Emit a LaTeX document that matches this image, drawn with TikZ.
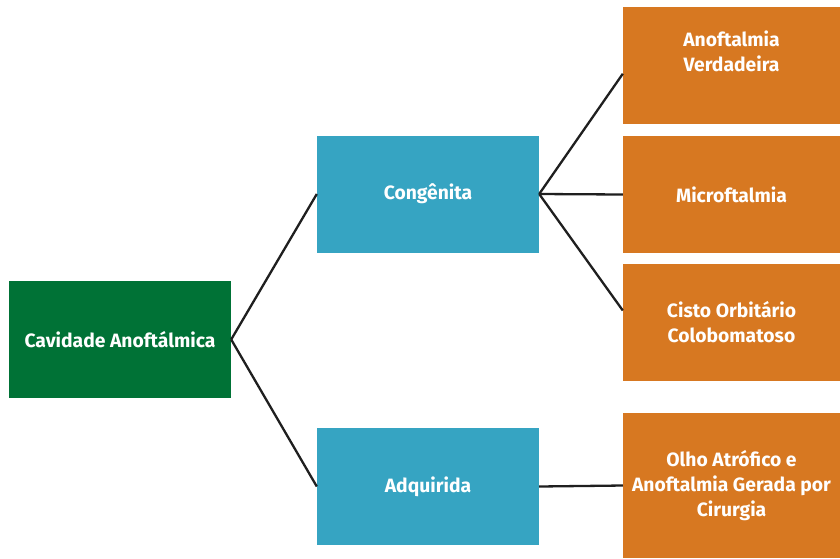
\documentclass[tikz,border=0pt]{standalone}
\usepackage{fontspec}
\setmainfont{Fira Sans}
\usepackage{tikz}

\definecolor{rootgreen}{RGB}{0,114,54}
\definecolor{midblue}{RGB}{54,164,194}
\definecolor{leaforange}{RGB}{215,120,33}

\begin{document}
\begin{tikzpicture}[x=1pt, y=1pt,
  box/.style = {minimum width=222pt, minimum height=117pt, inner sep=0pt,
    text=white, align=center, font=\fontsize{19.3}{25}\selectfont\bfseries},
  root/.style = {box, fill=rootgreen},
  mid/.style = {box, fill=midblue},
  leaf/.style = {box, fill=leaforange, minimum width=217pt},
  link/.style = {draw=black!88, line width=2.3pt}]
\useasboundingbox (0,0) rectangle (840,-558);
\node[root] (cav) at (120,-339.5) {Cavidade Anoftálmica};
\node[mid] (cong) at (428,-194) {Congênita};
\node[mid] (adq) at (428,-486.5) {Adquirida};
\node[leaf] (verd) at (731.5,-65.75) {};
\node[font=\fontsize{19.3}{25}\selectfont\bfseries, text=white, align=center] (verdtxt) at (731.5,-51) {Anoftalmia\\Verdadeira};
\node[leaf] (micro) at (731.5,-194.5) {Microftalmia};
\node[leaf] (cisto) at (731.5,-322.5) {Cisto Orbitário\\Colobomatoso};
\node[leaf, minimum height=145pt] (atrof) at (731.5,-485.5) {Olho Atrófico e\\Anoftalmia Gerada por\\Cirurgia};
\draw[link] (cav.east) -- (cong.west);
\draw[link] (cav.east) -- (adq.west);
\draw[link] (cong.east) -- ([yshift=-8pt]verd.west);
\draw[link] (cong.east) -- (micro.west);
\draw[link] (cong.east) -- ([yshift=12pt]cisto.west);
\draw[link] (adq.east) -- (atrof.west);
\end{tikzpicture}
\end{document}
